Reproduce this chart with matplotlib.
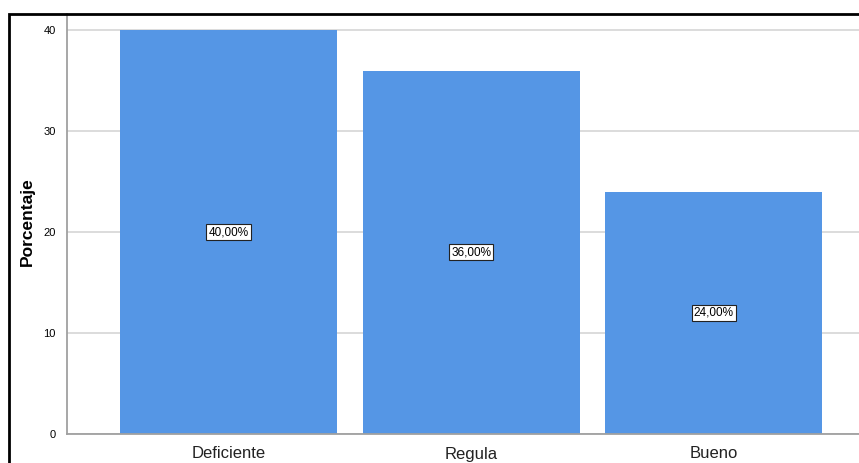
import matplotlib
matplotlib.use("Agg")
import matplotlib.pyplot as plt
from matplotlib.patches import Rectangle

plt.rcParams["font.family"] = ["Liberation Sans", "DejaVu Sans"]

categories = ["Deficiente", "Regula", "Bueno"]
percentages = [40.0, 36.0, 24.0]
bar_labels = ["40,00%", "36,00%", "24,00%"]
y_ticks = [0, 10, 20, 30, 40]

W, H = 859, 463
fig = plt.figure(figsize=(W / 100, H / 100), dpi=100)
fig.patch.set_facecolor("white")

# axes placement in pixels
left_px, right_px, bottom_px, top_px = 67, 859, 434, 14
ax = fig.add_axes([left_px / W, 1 - bottom_px / H,
                   (right_px - left_px) / W, (bottom_px - top_px) / H])

x = range(len(categories))
ax.bar(x, percentages, width=0.895, color="#5596E5", zorder=2)
for xi, v, lab in zip(x, percentages, bar_labels):
    ax.text(xi, v / 2, lab, ha="center", va="center", fontsize=8.5,
            color="black", zorder=3,
            bbox=dict(boxstyle="square,pad=0.18", facecolor="white",
                      edgecolor="#222222", linewidth=0.8))

ax.set_xlim(-0.665, 2.598)
ax.set_ylim(0, 41.6)
ax.set_yticks(y_ticks)
ax.set_yticklabels([str(t) for t in y_ticks], fontsize=8)
ax.set_xticks(list(x))
ax.set_xticklabels(categories, fontsize=12, color="#222222")
ax.tick_params(axis="y", length=0, pad=8)
ax.tick_params(axis="x", length=0, pad=9)
ax.grid(axis="y", color="#d6d6d6", linewidth=1.2, zorder=0)
ax.set_axisbelow(True)
for s in ["top", "right"]:
    ax.spines[s].set_visible(False)
ax.spines["left"].set_color("#a0a0a0")
ax.spines["bottom"].set_color("#a0a0a0")
ax.spines["left"].set_linewidth(1.3)
ax.spines["bottom"].set_linewidth(1.3)
ax.set_ylabel("Porcentaje", fontsize=12.5, fontweight="bold")
ax.yaxis.set_label_coords((35 - left_px) / (right_px - left_px),
                          (434 - 222) / (434 - 14))

# outer black frame (top and left edges)
fig.add_artist(Rectangle((9 / W, -0.1), 1.2, 1.1 - 14 / H,
                         transform=fig.transFigure, fill=False,
                         edgecolor="black", linewidth=2))

fig.savefig("out.png", dpi=100)
